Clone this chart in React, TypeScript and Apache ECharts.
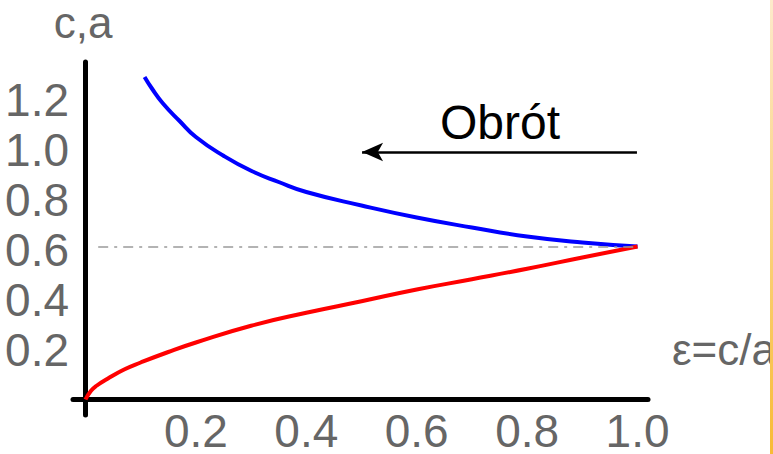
import React, { useEffect, useRef } from "react";
import * as echarts from "echarts";

// ε = c/a values and the two curves
const epsBlue = [0.107, 0.12, 0.14, 0.17, 0.2, 0.25, 0.3, 0.35, 0.4, 0.5, 0.6, 0.7, 0.8, 0.9, 1.0];
const aValues = [1.29, 1.245, 1.185, 1.115, 1.05, 0.975, 0.915, 0.87, 0.83, 0.776, 0.728, 0.688, 0.652, 0.628, 0.612];

const epsRed = [0, 0.01, 0.02, 0.04, 0.07, 0.1, 0.15, 0.2, 0.3, 0.4, 0.5, 0.6, 0.7, 0.8, 0.9, 1.0];
const cValues = [0, 0.035, 0.055, 0.083, 0.12, 0.148, 0.19, 0.228, 0.295, 0.347, 0.393, 0.44, 0.481, 0.523, 0.568, 0.612];

const xTicks = [0.2, 0.4, 0.6, 0.8, 1.0];
const yTicks = [0.2, 0.4, 0.6, 0.8, 1.0, 1.2];

const meetValue = 0.612;
const arrowY = 0.99;
const arrowFrom = 0.999;
const arrowTo = 0.501;

const FONT = "Liberation Sans, Arial, sans-serif";

export default function App() {
  const ref = useRef<HTMLDivElement>(null);
  useEffect(() => {
    if (!ref.current) return;
    const chart = echarts.init(ref.current, null, { renderer: "svg" });
    const blue = epsBlue.map((e, i) => [e, aValues[i]]);
    const red = epsRed.map((e, i) => [e, cValues[i]]);
    chart.setOption({
      animation: false,
      backgroundColor: "#ffffff",
      grid: { left: 73, right: 125, top: 62, bottom: 39, containLabel: false, outerBoundsMode: "none" },
      xAxis: {
        type: "value",
        min: -0.02264,
        max: 1.019,
        axisLine: { show: true, onZero: true, lineStyle: { color: "#000", width: 5 } },
        axisTick: { show: false },
        splitLine: { show: false },
        axisLabel: {
          customValues: xTicks,
          formatter: (v: number) => v.toFixed(1),
          fontSize: 46,
          lineHeight: 36,
          color: "#666666",
          fontFamily: FONT,
          margin: -2,
        },
      },
      yAxis: {
        type: "value",
        min: -0.062,
        max: 1.35,
        axisLine: { show: true, onZero: true, lineStyle: { color: "#000", width: 5 } },
        axisTick: { show: false },
        splitLine: { show: false },
        axisLabel: {
          customValues: yTicks,
          formatter: (v: number) => v.toFixed(1),
          fontSize: 46,
          color: "#666666",
          fontFamily: FONT,
          margin: 4,
        },
      },
      series: [
        {
          type: "line",
          data: blue,
          smooth: 0.5,
          showSymbol: false,
          lineStyle: { color: "#0000ff", width: 4 },
          z: 3,
          markLine: {
            silent: true,
            animation: false,
            label: { show: false },
            symbol: ["none", "arrow"],
            symbolSize: [14, 21],
            data: [
              [
                { coord: [0.023, meetValue], symbol: "none", lineStyle: { color: "#9a9a9a", width: 1.5, type: [10, 6, 3, 6] } },
                { coord: [1.0, meetValue], symbol: "none" },
              ],
              [
                { coord: [arrowFrom, arrowY], symbol: "none", lineStyle: { color: "#000000", width: 2.5, type: "solid" } },
                { coord: [arrowTo, arrowY], symbol: "arrow", symbolSize: [14, 21] },
              ],
            ],
          },
        },
        {
          type: "line",
          data: red,
          smooth: 0.5,
          showSymbol: false,
          lineStyle: { color: "#ff0000", width: 4 },
          z: 3,
        },
      ],
      graphic: [
        { type: "text", x: 83, y: 22, style: { text: "c,a", font: `44px ${FONT}`, lineHeight: 34, fill: "#666666", align: "center", verticalAlign: "middle" } },
        { type: "text", x: 672, y: 349, style: { text: "ε=c/a", font: `44px ${FONT}`, fill: "#666666", align: "left", verticalAlign: "middle" } },
        { type: "text", x: 500, y: 122, style: { text: "Obrót", font: `48px ${FONT}`, fill: "#000000", align: "center", verticalAlign: "middle" } },
        {
          type: "rect",
          z: 100,
          shape: { x: 770, y: 0, width: 3, height: 454 },
          style: {
            fill: new echarts.graphic.LinearGradient(0, 0, 0, 1, [
              { offset: 0, color: "#fdeacb" },
              { offset: 1, color: "#f8bb35" },
            ]),
          },
        },
      ],
    });
    return () => chart.dispose();
  }, []);
  return <div ref={ref} style={{ position: "fixed", left: 0, top: 0, width: 773, height: 454 }} />;
}
